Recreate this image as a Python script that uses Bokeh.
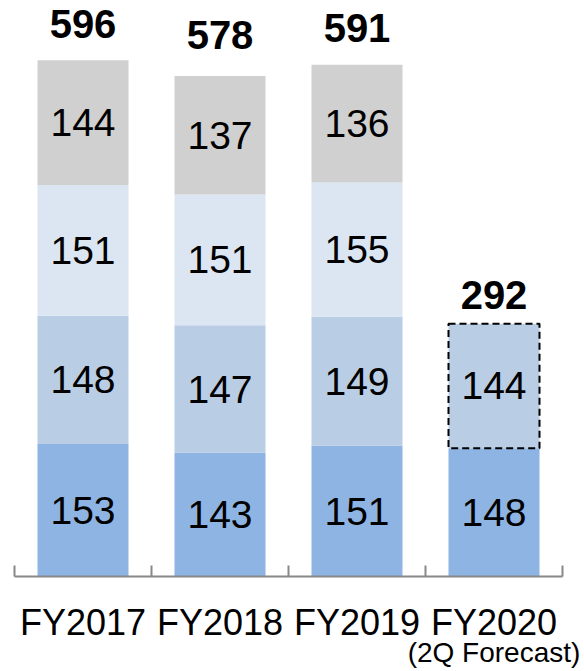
from bokeh.plotting import figure
from bokeh.models import Range1d
from bokeh.core.properties import value
from bokeh.embed import file_html
from bokeh.resources import INLINE

# ---- data ----
categories = ["FY2017", "FY2018", "FY2019", "FY2020"]
sub_labels = ["", "", "", "(2Q Forecast)"]
seg1 = [153, 143, 151, 148]
seg2 = [148, 147, 149, 144]
seg3 = [151, 151, 155, None]
seg4 = [144, 137, 136, None]
totals = [596, 578, 591, 292]
forecast_index = 3

# ---- style ----
colors = ["#8EB4E3", "#B9CDE5", "#DCE6F2", "#D0D0D0"]
PX = 0.866           # pixels per value unit
X0 = 14              # pixel of left axis end
CW = 137             # pixel width of one category
BASE = 576           # pixel y of axis line
W, H = 584, 671
bar_w = 91 / CW
top_gap_px = [36, 41, 37, 29]   # total label centre above bar top
FONT = "Liberation Sans"

p = figure(width=W, height=H, output_backend="svg", toolbar_location=None,
           x_range=Range1d(-X0 / CW, (W - X0) / CW),
           y_range=Range1d(-(H - BASE) / PX, BASE / PX),
           min_border=0)
p.xaxis.visible = False
p.yaxis.visible = False
p.grid.visible = False
p.outline_line_color = None
p.background_fill_color = "white"
p.border_fill_color = "white"

n = len(categories)
xs = [i + 0.5 for i in range(n)]
series = [seg1, seg2, seg3, seg4]

bottom = [0.0] * n
lx, ly, lt = [], [], []
for si, s in enumerate(series):
    bx, bb, bt = [], [], []
    for i in range(n):
        v = s[i]
        if v is None:
            continue
        bx.append(xs[i]); bb.append(bottom[i]); bt.append(bottom[i] + v)
        lx.append(xs[i]); ly.append(bottom[i] + v / 2); lt.append(str(v))
        bottom[i] += v
    p.vbar(x=bx, bottom=bb, top=bt, width=bar_w, fill_color=colors[si],
           line_color=None)

# dashed outline for the forecast segment
fi = forecast_index
p.vbar(x=[xs[fi]], bottom=[seg1[fi]], top=[seg1[fi] + seg2[fi]], width=bar_w,
       fill_alpha=0, line_color="black", line_width=2, line_dash="7 4")

# segment labels
p.text(x=lx, y=ly, text=lt, text_align="center", text_baseline="middle",
       text_font=value(FONT), text_font_size="39px", text_color="black")

# totals
ty = [totals[i] + top_gap_px[i] / PX for i in range(n)]
p.text(x=xs, y=ty, text=[str(t) for t in totals], text_align="center",
       text_baseline="middle", text_font=value(FONT), text_font_size="40px",
       text_font_style="bold", text_color="black")

# axis line and boundary ticks
p.segment(x0=[0], y0=[0], x1=[n], y1=[0], line_color="#888888", line_width=2)
tick_len = 11 / PX
p.segment(x0=list(range(n + 1)), y0=[0] * (n + 1), x1=list(range(n + 1)),
          y1=[tick_len] * (n + 1), line_color="#888888", line_width=2)

# category labels
p.text(x=xs, y=[-46 / PX] * n, text=categories, text_align="center",
       text_baseline="middle", text_font=value(FONT), text_font_size="36px",
       text_color="black")
p.text(x=xs, y=[-76 / PX] * n, text=sub_labels, text_align="center",
       text_baseline="middle", text_font=value(FONT), text_font_size="28px",
       text_color="black")

open("out.html", "w").write(file_html(p, INLINE))
